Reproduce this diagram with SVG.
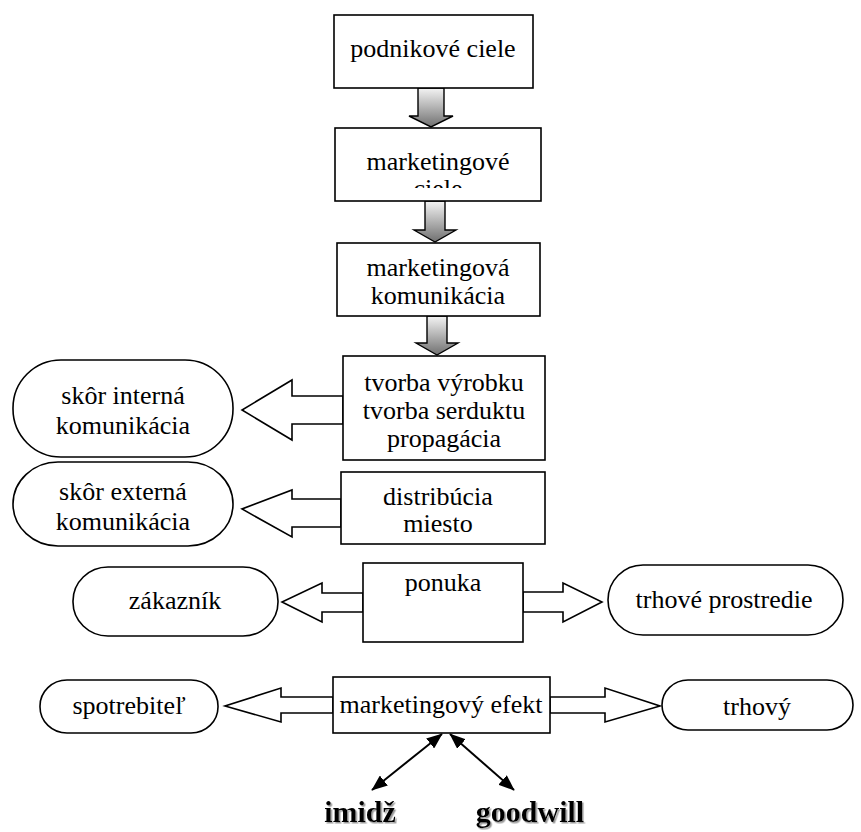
<svg xmlns="http://www.w3.org/2000/svg" width="861" height="832" viewBox="0 0 861 832">
<defs>
<style>
.box{fill:#fff;stroke:#000;stroke-width:1.6}
.pill{fill:#fff;stroke:#000;stroke-width:1.6}
.barr{fill:#fff;stroke:#000;stroke-width:1.6;stroke-linejoin:miter}
.garr{fill:url(#g);stroke:#000;stroke-width:1.4}
.t{font-family:"Liberation Serif","Times New Roman",serif;font-size:26px;fill:#000;text-anchor:middle}
.b{font-family:"Liberation Serif","Times New Roman",serif;font-size:30px;font-weight:bold;fill:#000;text-anchor:middle;filter:url(#sh)}
.con{stroke:#000;stroke-width:2;fill:none}
</style>
<linearGradient id="g" x1="0" y1="0" x2="0" y2="1">
<stop offset="0" stop-color="#f4f4f4"/>
<stop offset="1" stop-color="#707070"/>
</linearGradient>
<marker id="ah2" viewBox="0 0 10 8" refX="9.5" refY="4" markerWidth="16" markerHeight="13" orient="auto-start-reverse" markerUnits="userSpaceOnUse">
<path d="M0,0 L10,4 L0,8 z" fill="#000"/>
</marker>
<clipPath id="clipB"><rect x="335" y="128" width="206" height="60"/></clipPath>
<filter id="sh" x="-10%" y="-10%" width="130%" height="140%">
<feDropShadow dx="1.5" dy="1.5" stdDeviation="0.6" flood-color="#999"/>
</filter>
</defs>

<g id="connectors">
<polygon class="garr" points="418,88 444,88 444,116 453,116 431,127 409,116 418,116"/>
<polygon class="garr" points="425,201 445,201 445,230 456,230 435,242 414,230 425,230"/>
<polygon class="garr" points="427,316 447,316 447,343 458,343 437,355 416,343 427,343"/>
<polygon class="barr" points="343,396 292,396 292,380 242,410 292,440 292,424 343,424"/>
<polygon class="barr" points="341,499 292,499 292,490 242,509 292,537 292,527 341,527"/>
<polygon class="barr" points="363,593 322,593 322,583 282,602 322,622 322,612 363,612"/>
<polygon class="barr" points="523,592 563,592 563,583 602,602 563,622 563,612 523,612"/>
<polygon class="barr" points="333,697 281,697 281,688 225,706 281,722 281,713 333,713"/>
<polygon class="barr" points="550,697 605,697 605,688 660,706 605,722 605,713 550,713"/>
<line class="con" x1="442" y1="734" x2="372" y2="790" marker-start="url(#ah2)" marker-end="url(#ah2)"/>
<line class="con" x1="450" y1="734" x2="514" y2="790" marker-start="url(#ah2)" marker-end="url(#ah2)"/>
</g>

<g id="podnikove-ciele">
<rect class="box" x="334" y="15" width="199" height="73"/>
<text class="t" x="433" y="57">podnikové ciele</text>
</g>

<g id="marketingove-ciele">
<rect class="box" x="335" y="128" width="206" height="73"/>
<g clip-path="url(#clipB)">
<text class="t" x="438" y="170">marketingové</text>
<text class="t" x="438" y="197">ciele</text>
</g>
</g>

<g id="marketingova-komunikacia">
<rect class="box" x="337" y="243" width="203" height="73"/>
<text class="t" x="438" y="276">marketingová</text>
<text class="t" x="438" y="304">komunikácia</text>
</g>

<g id="tvorba">
<rect class="box" x="343" y="356" width="202" height="104"/>
<text class="t" x="444" y="391">tvorba výrobku</text>
<text class="t" x="444" y="419">tvorba serduktu</text>
<text class="t" x="444" y="447">propagácia</text>
</g>

<g id="skor-interna">
<rect class="pill" x="13" y="360" width="220" height="97" rx="48" ry="48"/>
<text class="t" x="123" y="404">skôr interná</text>
<text class="t" x="123" y="434">komunikácia</text>
</g>

<g id="skor-externa">
<rect class="pill" x="13" y="462" width="220" height="84" rx="45" ry="42"/>
<text class="t" x="123" y="500">skôr externá</text>
<text class="t" x="123" y="530">komunikácia</text>
</g>

<g id="distribucia">
<rect class="box" x="341" y="472" width="204" height="72"/>
<text class="t" x="438" y="505">distribúcia</text>
<text class="t" x="438" y="532">miesto</text>
</g>

<g id="zakaznik">
<rect class="pill" x="73" y="567" width="205" height="69" rx="35" ry="34"/>
<text class="t" x="175" y="609">zákazník</text>
</g>

<g id="ponuka">
<rect class="box" x="363" y="563" width="160" height="79"/>
<text class="t" x="443" y="591">ponuka</text>
</g>

<g id="trhove-prostredie">
<rect class="pill" x="608" y="565" width="235" height="70" rx="35" ry="35"/>
<text class="t" x="724" y="608">trhové prostredie</text>
</g>

<g id="spotrebitel">
<rect class="pill" x="40" y="680" width="178" height="53" rx="27" ry="26"/>
<text class="t" x="129" y="714">spotrebiteľ</text>
</g>

<g id="marketingovy-efekt">
<rect class="box" x="333" y="677" width="217" height="56"/>
<text class="t" x="441" y="713">marketingový efekt</text>
</g>

<g id="trhovy">
<rect class="pill" x="662" y="680" width="191" height="50" rx="26" ry="25"/>
<text class="t" x="757" y="715">trhový</text>
</g>

<g id="imidz">
<text class="b" x="360" y="822">imidž</text>
</g>
<g id="goodwill">
<text class="b" x="530" y="822">goodwill</text>
</g>
</svg>
